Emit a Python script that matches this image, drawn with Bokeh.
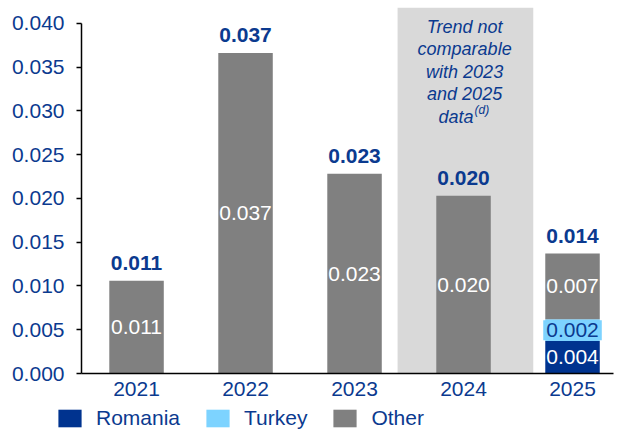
from bokeh.plotting import figure
from bokeh.layouts import column, row
from bokeh.models import (ColumnDataSource, LabelSet, Label, FixedTicker,
                          NumeralTickFormatter, Legend, LegendItem)
from bokeh.core.properties import value
from bokeh.embed import file_html
from bokeh.resources import INLINE

# ---------------- data ----------------
years = ["2021", "2022", "2023", "2024", "2025"]
romania = [0.0, 0.0, 0.0, 0.0, 0.0037]
turkey = [0.0, 0.0, 0.0, 0.0, 0.0025]
other = [0.0106, 0.0366, 0.0228, 0.0203, 0.0075]

total_labels = ["0.011", "0.037", "0.023", "0.020", "0.014"]
other_labels = ["0.011", "0.037", "0.023", "0.020", "0.007"]
romania_labels = ["", "", "", "", "0.004"]
turkey_labels = ["", "", "", "", "0.002"]

y_ticks = [0.000, 0.005, 0.010, 0.015, 0.020, 0.025, 0.030, 0.035, 0.040]
shaded_year = "2024"
note_lines = ["Trend not", "comparable", "with 2023", "and 2025"]
note_last = "data"
note_sup = "(d)"
series_names = ["Romania", "Turkey", "Other"]

# ---------------- styles ----------------
NAVY = "#0B3A8F"
C_ROM = "#00338F"
C_TUR = "#7DD3FF"
C_OTH = "#808080"
C_SHADE = "#D9D9D9"
FONT = "Liberation Sans"
Y_END = 0.0418
PX_PER_UNIT = 366 / Y_END

x = list(range(len(years)))
total = [r + t + o for r, t, o in zip(romania, turkey, other)]

src = ColumnDataSource(dict(x=x, romania=romania, turkey=turkey, other=other,
                            total=total, total_lab=total_labels))

p = figure(width=616, height=406, x_range=(-0.505, 4.376), y_range=(0, Y_END),
           output_backend="svg", toolbar_location=None,
           min_border_left=81, min_border_right=3, min_border_top=7,
           min_border_bottom=33)
p.outline_line_color = None
p.xgrid.grid_line_color = None
p.ygrid.grid_line_color = None
p.background_fill_color = None
p.border_fill_color = None

# shaded 2024 region
si = years.index(shaded_year)
p.quad(left=[si - 0.605], right=[si + 0.64], bottom=[0], top=[Y_END],
       fill_color=C_SHADE, line_color=None)

# bars
stackers = ["romania", "turkey", "other"]
colors = [C_ROM, C_TUR, C_OTH]
rends = p.vbar_stack(stackers, x="x", width=0.5, source=src,
                     color=colors, line_color=None)

# inner labels
other_mid = [r + t + o / 2 for r, t, o in zip(romania, turkey, other)]
tur_mid = [r + t / 2 for r, t in zip(romania, turkey)]
rom_mid = [r / 2 for r in romania]

lab_o = ColumnDataSource(dict(x=x, y=other_mid, t=other_labels))
p.add_layout(LabelSet(x="x", y="y", text="t", source=lab_o, text_align="center",
                      text_baseline="middle", text_color="white",
                      text_font=value(FONT), text_font_size="21px"))

for i, s in enumerate(turkey_labels):
    if s:
        p.add_layout(Label(x=x[i], y=tur_mid[i], text=s, text_align="center",
                           text_baseline="middle", text_color=NAVY, text_font=FONT,
                           text_font_size="21px", background_fill_color=C_TUR,
                           padding=3))
ri = [i for i, s in enumerate(romania_labels) if s]
lab_r = ColumnDataSource(dict(x=[x[i] for i in ri], y=[rom_mid[i] for i in ri],
                              t=[romania_labels[i] for i in ri]))
p.add_layout(LabelSet(x="x", y="y", text="t", source=lab_r, text_align="center",
                      text_baseline="middle", text_color="white",
                      text_font=value(FONT), text_font_size="21px"))

# total labels
p.add_layout(LabelSet(x="x", y="total", text="total_lab", source=src,
                      text_align="center", text_baseline="alphabetic",
                      y_offset=11, text_color=NAVY, text_font=value(FONT),
                      text_font_style="bold", text_font_size="21px"))

# note in shaded area
base = (373 - 26) / PX_PER_UNIT
step = 22.5 / PX_PER_UNIT
for k, line in enumerate(note_lines):
    p.add_layout(Label(x=si + 0.01, y=base - k * step, text=line, text_align="center",
                       text_baseline="alphabetic", text_color=NAVY, text_font=FONT,
                       text_font_style="italic", text_font_size="18px"))
yl = base - len(note_lines) * step
p.add_layout(Label(x=si + 0.01, y=yl, text=note_last, text_align="right", x_offset=9,
                   text_baseline="alphabetic", text_color=NAVY, text_font=FONT,
                   text_font_style="italic", text_font_size="18px"))
p.add_layout(Label(x=si + 0.01, y=yl, text=note_sup, text_align="left", x_offset=10,
                   y_offset=7, text_baseline="alphabetic", text_color=NAVY,
                   text_font=FONT, text_font_style="italic", text_font_size="12px"))

# axes
p.xaxis.ticker = FixedTicker(ticks=x)
p.xaxis.major_label_overrides = {i: y for i, y in zip(x, years)}
p.xaxis.major_tick_line_color = None
p.xaxis.major_tick_out = 0
p.xaxis.major_tick_in = 0
p.xaxis.minor_tick_line_color = None
p.xaxis.axis_line_color = "black"
p.xaxis.axis_line_width = 1.5
p.xaxis.major_label_text_font = FONT
p.xaxis.major_label_text_font_size = "21px"
p.xaxis.major_label_text_color = NAVY
p.xaxis.major_label_standoff = 8

p.yaxis.ticker = FixedTicker(ticks=y_ticks)
p.yaxis.formatter = NumeralTickFormatter(format="0.000")
p.yaxis.bounds = (0, 0.04)
p.yaxis.axis_line_color = "black"
p.yaxis.axis_line_width = 1.5
p.yaxis.major_tick_line_color = "black"
p.yaxis.major_tick_line_width = 1.5
p.yaxis.major_tick_out = 5
p.yaxis.major_tick_in = 0
p.yaxis.minor_tick_line_color = None
p.yaxis.major_label_text_font = FONT
p.yaxis.major_label_text_font_size = "21px"
p.yaxis.major_label_text_color = NAVY
p.yaxis.major_label_standoff = 12

# legend strip (separate figure below the chart; its view range hides the bars)
p2 = figure(width=616, height=24, x_range=(-0.505, 4.376), y_range=(1, 2),
            output_backend="svg", toolbar_location=None,
            x_axis_location=None, y_axis_location=None,
            min_border_left=0, min_border_right=0, min_border_top=0,
            min_border_bottom=0)
p2.outline_line_color = None
p2.xgrid.grid_line_color = None
p2.ygrid.grid_line_color = None
p2.border_fill_color = None
p2.background_fill_color = None
rends2 = p2.vbar_stack(stackers, x="x", width=0.5, source=src,
                       color=colors, line_color=None)
items = [LegendItem(label=n, renderers=[r]) for n, r in zip(series_names, rends2)]
legend = Legend(items=items, orientation="horizontal", location=(55, 0),
                glyph_width=29, glyph_height=22, label_height=22,
                label_standoff=12, spacing=23, padding=0, margin=0,
                label_text_font=FONT, label_text_font_size="21px",
                label_text_color=NAVY, border_line_color=None,
                background_fill_alpha=0)
p2.add_layout(legend, "center")

open("out.html", "w").write(file_html(column(p, row(p2), spacing=0), INLINE))
